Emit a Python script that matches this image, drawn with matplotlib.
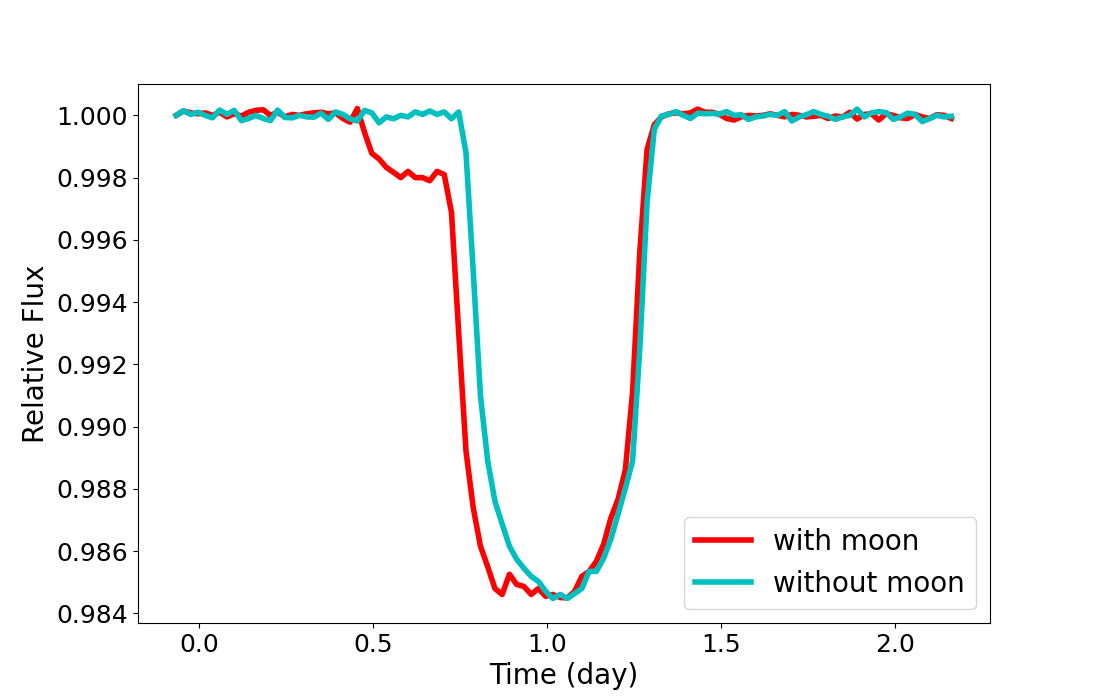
import numpy as np
import matplotlib
matplotlib.use("Agg")
import matplotlib.pyplot as plt

# 30-min cadence, 108 samples
time = np.linspace(-0.066, 2.1617, 108)

flux_moon = [
    1.00000, 1.00014, 1.00008, 1.00005, 1.00008, 1.00000, 1.00010, 0.99995, 1.00005, 0.99998,
    1.00010, 1.00016, 1.00018, 1.00000, 1.00010, 0.99995, 1.00003, 1.00000, 1.00005, 1.00008,
    1.00010, 1.00005, 1.00008, 0.99990, 0.99978, 1.00022, 0.99945, 0.99878, 0.99860, 0.99833,
    0.99817, 0.99800, 0.99820, 0.99800, 0.99800, 0.99790, 0.99820, 0.99810, 0.99688, 0.99300,
    0.98922, 0.98740, 0.98616, 0.98550, 0.98480, 0.98461, 0.98526, 0.98493, 0.98487, 0.98461,
    0.98480, 0.98455, 0.98461, 0.98451, 0.98450, 0.98471, 0.98519, 0.98535, 0.98567, 0.98622,
    0.98706, 0.98767, 0.98860, 0.99110, 0.99560, 0.99890, 0.99970, 0.99995, 1.00005, 1.00008,
    1.00005, 1.00008, 1.00020, 1.00010, 1.00010, 1.00003, 0.99990, 0.99985, 0.99995, 1.00000,
    0.99998, 1.00000, 1.00005, 1.00000, 0.99995, 1.00003, 1.00000, 0.99995, 0.99997, 1.00000,
    0.99990, 0.99998, 0.99995, 1.00010, 0.99988, 1.00003, 1.00005, 0.99985, 1.00005, 1.00000,
    0.99992, 0.99990, 1.00003, 0.99995, 0.99990, 1.00002, 1.00000, 0.99990,
]

flux_nomoon = [
    1.00000, 1.00015, 1.00003, 1.00010, 1.00000, 0.99992, 1.00017, 1.00003, 1.00016, 0.99983,
    0.99990, 1.00000, 0.99990, 0.99983, 1.00017, 0.99993, 0.99992, 1.00000, 0.99995, 0.99994,
    1.00007, 0.99987, 1.00011, 1.00003, 0.99989, 0.99982, 1.00016, 1.00008, 0.99976, 0.99995,
    0.99989, 1.00000, 0.99995, 1.00011, 1.00003, 1.00014, 1.00003, 1.00011, 0.99989, 1.00011,
    0.99880, 0.99500, 0.99100, 0.98890, 0.98760, 0.98687, 0.98616, 0.98574, 0.98545, 0.98519,
    0.98503, 0.98471, 0.98448, 0.98461, 0.98448, 0.98464, 0.98480, 0.98535, 0.98535, 0.98577,
    0.98638, 0.98719, 0.98802, 0.98889, 0.99250, 0.99720, 0.99955, 0.99998, 1.00003, 1.00012,
    1.00000, 0.99990, 1.00007, 1.00005, 1.00006, 1.00004, 1.00012, 1.00000, 1.00002, 0.99987,
    0.99995, 0.99998, 1.00003, 1.00000, 1.00012, 0.99982, 0.99995, 1.00002, 1.00012, 1.00003,
    0.99997, 0.99987, 0.99995, 1.00000, 1.00020, 0.99995, 1.00008, 1.00012, 1.00009, 0.99987,
    0.99995, 1.00007, 1.00003, 0.99980, 0.99990, 1.00000, 0.99995, 0.99997,
]

fig = plt.figure(figsize=(11, 7), dpi=100)
plt.plot(time, flux_moon, 'r', lw=4, label='with moon')
plt.plot(time, flux_nomoon, 'c', lw=4, label='without moon')

plt.xlabel('Time (day)', fontsize=20)
plt.ylabel('Relative Flux', fontsize=20)
plt.xticks(fontsize=18)
plt.yticks(fontsize=18)
plt.legend(loc='lower right', fontsize=20)

fig.savefig('out.png')
